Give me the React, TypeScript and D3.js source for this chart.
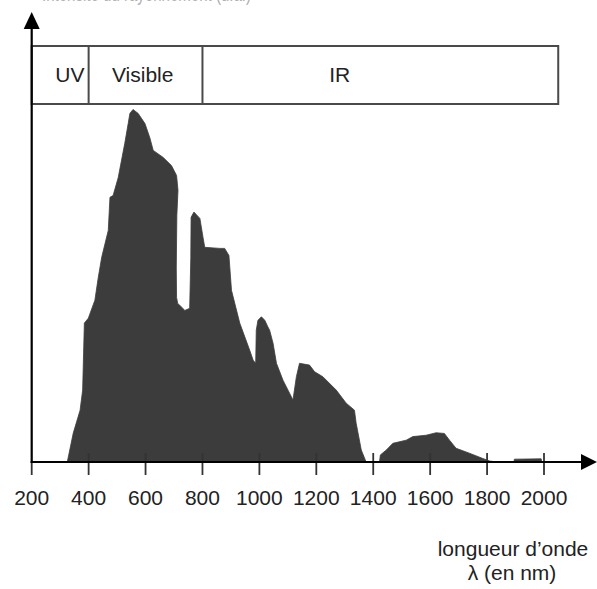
import React from "react";
import * as d3 from "d3";

// Spectrum (wavelength in nm, relative intensity, a.u.)
const spectrumNm = [
  325, 346, 370, 379, 385, 399, 422, 434, 446, 469, 475, 486, 504, 527, 539, 545, 556, 574, 598, 615,
  627, 662, 691, 709, 714, 710, 708, 709, 713, 720, 738, 755, 759, 760, 770, 791, 802, 808, 861, 878,
  893, 902, 931, 966, 978, 987, 989, 995, 1007, 1019, 1030, 1036, 1048, 1060, 1083, 1118, 1130, 1141,
  1176, 1194, 1223, 1270, 1305, 1334, 1340, 1358, 1375, 1422, 1425, 1446, 1469, 1516, 1539, 1586, 1621,
  1650, 1668, 1691, 1738, 1785, 1809, 1832, 1894, 1896, 1990, 1992,
];
const spectrumValue = [
  0, 8.2, 14.7, 20.4, 39.4, 40.8, 45.9, 52.4, 58.1, 65.7, 75.1, 75.6, 80.7, 90.4, 96, 98.9, 100, 98.9, 96, 92,
  88.4, 86.4, 84.1, 81.3, 77.1, 70, 55, 46.7, 45, 44.5, 43, 43.6, 58, 69.4, 70.9, 69.1, 63.7, 60.9, 60.6, 60.6,
  58.6, 48.7, 39.4, 31.7, 28.9, 28, 37.4, 40.2, 41.2, 40.2, 38.3, 37.4, 33.7, 28, 23.2, 17.6, 24.2, 28,
  27.5, 25.6, 24.2, 20.4, 16.7, 14.7, 11, 3.4, 0, 0, 2, 3.4, 5.3, 6.2, 7.2, 7.6, 8.3,
  8.1, 6.2, 3.9, 2.5, 1, 0.3, 0, 0, 0.8, 0.9, 0,
];

const tickValues = [200, 400, 600, 800, 1000, 1200, 1400, 1600, 1800, 2000];

const bandLabels = ["UV", "Visible", "IR"];
const bandStarts = [200, 400, 800];
const bandEnds = [400, 800, 2050];
const bandLabelAt = [334, 590, 1282];

const xTitleLines = ["longueur d\u2019onde", "\u03bb (en nm)"];
const yTitle = "Intensit\u00e9 du rayonnement (u.a.)";

export default function App() {
  const W = 597;
  const H = 589;
  const x = d3.scaleLinear().domain([200, 2000]).range([31.7, 544]);
  const y = d3.scaleLinear().domain([0, 100]).range([462, 109.5]);
  const base = y(0);
  const x0 = x(200);

  const pts = spectrumNm.map((n, i) => [n, spectrumValue[i]] as [number, number]);
  const area = d3
    .area<[number, number]>()
    .x((d) => x(d[0]))
    .y0(base)
    .y1((d) => y(d[1]))
    .curve(d3.curveLinear);

  const font = "'Liberation Sans', Arial, Helvetica, sans-serif";
  const boxTop = 46;
  const boxBot = 104;

  return (
    <svg
      width={W}
      height={H}
      viewBox={`0 0 ${W} ${H}`}
      style={{ position: "absolute", left: 0, top: 0, background: "#fff" }}
      fontFamily={font}
    >
      <rect x={0} y={0} width={W} height={H} fill="#fff" />
      {/* y-axis title, cut by the top edge as in the reference */}
      <text x={42} y={0.5} fontSize={20} fill="#b0b0b0" textLength={209} lengthAdjust="spacingAndGlyphs">
        {yTitle}
      </text>

      {/* spectrum */}
      <path d={area(pts) || ""} fill="#3c3c3c" stroke="#3c3c3c" strokeWidth={0.8} strokeLinejoin="round" />

      {/* band box */}
      <rect
        x={x0}
        y={boxTop}
        width={x(bandEnds[2]) - x0}
        height={boxBot - boxTop}
        fill="none"
        stroke="#4a4a4a"
        strokeWidth={2}
      />
      {bandStarts.slice(1).map((s, i) => (
        <line key={`bs${i}`} x1={x(s)} x2={x(s)} y1={boxTop} y2={boxBot} stroke="#4a4a4a" strokeWidth={2} />
      ))}
      {bandLabels.map((l, i) => (
        <text key={`bl${i}`} x={x(bandLabelAt[i])} y={82} fontSize={21} fill="#222" textAnchor="middle">
          {l}
        </text>
      ))}

      {/* ticks */}
      {tickValues.map((t) => (
        <line
          key={`t${t}`}
          x1={x(t)}
          x2={x(t)}
          y1={t === 200 ? base : base - 9}
          y2={base + 13}
          stroke="#333"
          strokeWidth={1.8}
        />
      ))}
      {tickValues.map((t) => (
        <text key={`tl${t}`} x={x(t)} y={505} fontSize={21} fill="#222" textAnchor="middle">
          {t}
        </text>
      ))}

      {/* axes */}
      <line x1={x0} x2={x0} y1={base + 1} y2={26} stroke="#000" strokeWidth={2.2} />
      <path d={`M${x0},12 L${x0 - 8},29 L${x0 + 8},29 Z`} fill="#000" />
      <line x1={x0 - 1} x2={584} y1={base} y2={base} stroke="#000" strokeWidth={2.2} />
      <path d={`M597,${base} L581,${base - 8} L581,${base + 8} Z`} fill="#000" />

      {/* x-axis title */}
      <text x={513} y={556} fontSize={21} fill="#222" textAnchor="middle">
        {xTitleLines[0]}
      </text>
      <text x={512} y={580} fontSize={21} fill="#222" textAnchor="middle">
        {xTitleLines[1]}
      </text>
    </svg>
  );
}
